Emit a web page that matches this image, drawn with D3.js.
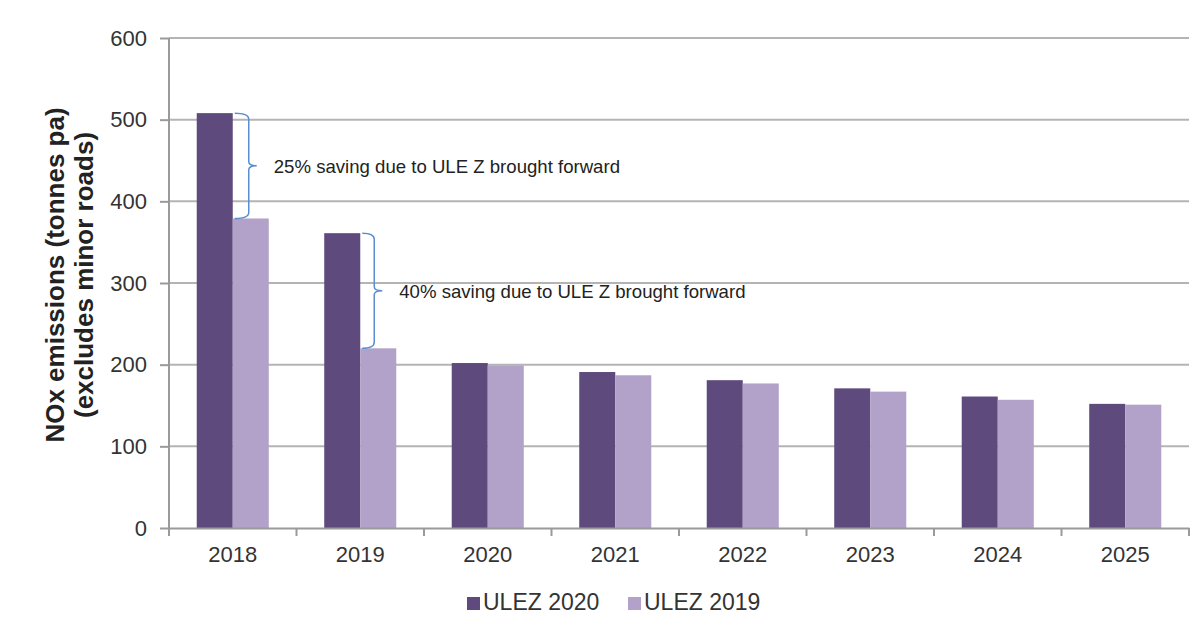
<!DOCTYPE html>
<html>
<head>
<meta charset="utf-8">
<script src="https://cdn.jsdelivr.net/npm/d3@7"></script>
<style>
  body { margin: 0; background: #fff; }
  svg text { font-family: "Liberation Sans", Arial, sans-serif; fill: #222; }
</style>
</head>
<body>
<svg id="chart" width="1200" height="630"></svg>
<script>
"use strict";
var years = [ "2018", "2019", "2020", "2021", "2022", "2023", "2024", "2025" ];
var ulez2020 = [ 508, 361, 202, 191, 181, 171, 161, 152 ];
var ulez2019 = [ 379, 220, 199, 187, 177, 167, 157, 151 ];
var seriesNames = [ "ULEZ 2020", "ULEZ 2019" ];
var yTicks = [ 0, 100, 200, 300, 400, 500, 600 ];
var notes = [
  { year: "2018", text: "25% saving due to ULE Z brought forward" },
  { year: "2019", text: "40% saving due to ULE Z brought forward" }
];

var colors = [ "#5f4a7d", "#b2a1c8" ];
var margin = { top: 38, right: 11, bottom: 102, left: 169 };
var width = 1200 - margin.left - margin.right;
var height = 630 - margin.top - margin.bottom;

var svg = d3.select( "#chart" );
var g = svg.append( "g" ).attr( "transform", "translate(" + margin.left + "," + margin.top + ")" );

var x = d3.scaleBand().domain( years ).range( [ 0, width ] ).paddingInner( 0.435 ).paddingOuter( 0.2175 );
var x1 = d3.scaleBand().domain( seriesNames ).range( [ 0, x.bandwidth() ] );
var y = d3.scaleLinear().domain( [ 0, 600 ] ).range( [ height, 0 ] );

// gridlines
g.selectAll( ".grid" ).data( yTicks.slice( 1 ) ).enter().append( "line" )
  .attr( "x1", 0 ).attr( "x2", width )
  .attr( "y1", function( d ) { return y( d ); } )
  .attr( "y2", function( d ) { return y( d ); } )
  .attr( "stroke", "#b4b4b4" ).attr( "stroke-width", 2 );

// bars
var rows = years.map( function( yr, i ) {
  return { year: yr, values: [ ulez2020[i], ulez2019[i] ] };
} );
var grp = g.selectAll( ".yr" ).data( rows ).enter().append( "g" )
  .attr( "transform", function( d ) { return "translate(" + x( d.year ) + ",0)"; } );
grp.selectAll( "rect" ).data( function( d ) {
    return d.values.map( function( v, k ) { return { key: seriesNames[k], v: v, k: k }; } );
  } ).enter().append( "rect" )
  .attr( "x", function( d ) { return x1( d.key ); } )
  .attr( "width", x1.bandwidth() )
  .attr( "y", function( d ) { return y( d.v ); } )
  .attr( "height", function( d ) { return height - y( d.v ); } )
  .attr( "fill", function( d ) { return colors[d.k]; } );

// y axis
var yAxis = g.append( "g" ).call( d3.axisLeft( y ).tickValues( yTicks ).tickSize( 9 ).tickPadding( 13 ) );
yAxis.select( ".domain" ).attr( "stroke", "#9a9a9a" ).attr( "stroke-width", 2 ).attr( "d", "M0," + height + "V0" );
yAxis.selectAll( ".tick line" ).attr( "stroke", "#9a9a9a" ).attr( "stroke-width", 2 );
yAxis.selectAll( "text" ).style( "font-size", "22px" ).style( "fill", "#333" );

// x axis
var xAxis = g.append( "g" ).attr( "transform", "translate(0," + height + ")" )
  .call( d3.axisBottom( x ).tickSize( 0 ).tickPadding( 18 ) );
xAxis.select( ".domain" ).attr( "stroke", "#9a9a9a" ).attr( "stroke-width", 2 );
xAxis.selectAll( "text" ).style( "font-size", "22px" ).style( "fill", "#333" );
var bounds = years.map( function( d ) { return x( d ) - x.step() * x.paddingInner() / 2; } ).concat( [ width ] );
xAxis.selectAll( ".sep" ).data( bounds ).enter().append( "line" )
  .attr( "x1", function( d ) { return d; } ).attr( "x2", function( d ) { return d; } )
  .attr( "y1", 0 ).attr( "y2", 8 )
  .attr( "stroke", "#9a9a9a" ).attr( "stroke-width", 2 );

// brackets
notes.forEach( function( n, j ) {
  var i = years.indexOf( n.year );
  var top = y( ulez2020[i] ), bot = y( ulez2019[i] );
  var bx = x( n.year ) + x.bandwidth() / 2 + 2;
  var w = j === 0 ? 14 : 12;
  var mid = ( top + bot ) / 2;
  var path = "M" + bx + "," + top + " Q" + ( bx + w ) + "," + top + " " + ( bx + w ) + "," + ( top + 6 ) +
    " V" + ( mid - 4 ) + " Q" + ( bx + w ) + "," + mid + " " + ( bx + w + 8 ) + "," + mid +
    " Q" + ( bx + w ) + "," + mid + " " + ( bx + w ) + "," + ( mid + 4 ) +
    " V" + ( bot - 6 ) + " Q" + ( bx + w ) + "," + bot + " " + bx + "," + bot;
  g.append( "path" ).attr( "d", path ).attr( "fill", "none" ).attr( "stroke", "#5b8ed0" ).attr( "stroke-width", 1.5 );
  g.append( "text" ).attr( "x", bx + w + 25 ).attr( "y", mid + 7 )
    .style( "font-size", "18.6px" ).text( n.text );
} );

// y title
var yt = svg.append( "text" ).attr( "transform", "translate(70,275) rotate(-90)" )
  .attr( "text-anchor", "middle" ).style( "font-size", "26px" ).style( "font-weight", "bold" );
yt.append( "tspan" ).attr( "x", 0 ).attr( "dy", -6 ).text( "NOx emissions (tonnes pa)" );
yt.append( "tspan" ).attr( "x", 0 ).attr( "dy", 29 ).text( "(excludes minor roads)" );

// legend
var legend = svg.append( "g" ).attr( "transform", "translate(467,597)" );
var items = legend.selectAll( "g" ).data( seriesNames ).enter().append( "g" )
  .attr( "transform", function( d, i ) { return "translate(" + ( i * 161 ) + ",0)"; } );
items.append( "rect" ).attr( "width", 13 ).attr( "height", 13 ).attr( "fill", function( d, i ) { return colors[i]; } );
items.append( "text" ).attr( "x", 16 ).attr( "y", 13 ).style( "font-size", "23px" ).style( "fill", "#333" )
  .text( function( d ) { return d; } );
</script>
</body>
</html>
